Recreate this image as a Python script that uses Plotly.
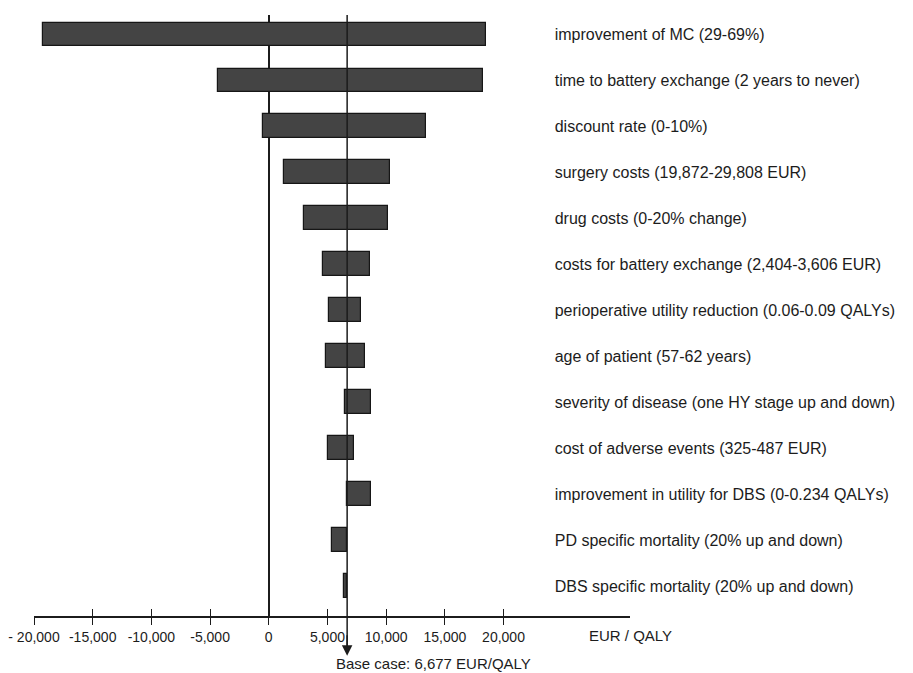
import plotly.graph_objects as go

# One-way sensitivity analysis of the ICER (tornado diagram)
parameters = [
    "improvement of MC (29-69%)",
    "time to battery exchange (2 years to never)",
    "discount rate (0-10%)",
    "surgery costs (19,872-29,808 EUR)",
    "drug costs (0-20% change)",
    "costs for battery exchange (2,404-3,606 EUR)",
    "perioperative utility reduction (0.06-0.09 QALYs)",
    "age of patient (57-62 years)",
    "severity of disease (one HY stage up and down)",
    "cost of adverse events (325-487 EUR)",
    "improvement in utility for DBS (0-0.234 QALYs)",
    "PD specific mortality (20% up and down)",
    "DBS specific mortality (20% up and down)",
]
low_icer = [-19220, -4320, -490, 1300, 3010, 4590, 5100, 4850, 6460, 5020, 6677, 5360, 6380]
high_icer = [18510, 18250, 13400, 10330, 10160, 8640, 7830, 8170, 8680, 7270, 8680, 6677, 6677]
base_case = 6677

tick_values = [-20000, -15000, -10000, -5000, 0, 5000, 10000, 15000, 20000]
tick_labels = ["- 20,000", "-15,000", "-10,000", "-5,000", "0", "5,000", "10,000", "15,000", "20,000"]

positions = list(range(len(parameters)))
FONT = "Liberation Sans, Arial, sans-serif"
INK = "#1c1c1c"

fig = go.Figure()
fig.add_trace(go.Bar(
    y=positions,
    x=[h - l for l, h in zip(low_icer, high_icer)],
    base=low_icer,
    orientation="h",
    width=0.52,
    marker=dict(color="#444444", line=dict(color="#161616", width=1.2)),
    showlegend=False,
    hoverinfo="skip",
))
# companion axis used only for the upward half of the crossing tick marks
fig.add_trace(go.Scatter(x=[], y=[], xaxis="x2", yaxis="y", showlegend=False))

fig.update_layout(
    width=913, height=673,
    margin=dict(l=34, r=283, t=15, b=57, autoexpand=False),
    paper_bgcolor="white", plot_bgcolor="white",
    font=dict(family=FONT, color=INK),
    bargap=0,
    xaxis=dict(
        range=[-20000, 30775], automargin=False,
        tickvals=tick_values, ticktext=tick_labels,
        ticks="outside", ticklen=7, tickwidth=1.3, tickcolor=INK,
        tickfont=dict(size=14, color=INK, family=FONT),
        showline=True, linecolor=INK, linewidth=1.5,
        showgrid=False,
        zeroline=True, zerolinecolor=INK, zerolinewidth=1.5,
    ),
    xaxis2=dict(
        overlaying="x", matches="x", anchor="y", side="bottom",
        automargin=False,
        tickvals=tick_values, ticks="inside", ticklen=7, tickwidth=1.3,
        tickcolor=INK, showticklabels=False, showline=False,
        showgrid=False, zeroline=False,
    ),
    yaxis=dict(
        range=[12.653, -0.425], automargin=False,
        tickvals=positions, ticktext=parameters,
        side="right", anchor="free", position=0.872,
        ticks="", showline=False, showgrid=False, zeroline=False,
        tickfont=dict(size=16, color=INK, family=FONT),
    ),
    shapes=[
        dict(type="line", xref="x", yref="paper",
             x0=base_case, x1=base_case, y0=1, y1=-0.05,
             line=dict(color=INK, width=1.5)),
    ],
    annotations=[
        dict(x=base_case, y=-0.066, xref="x", yref="paper",
             text="", showarrow=True, ax=0, ay=-22,
             arrowhead=2, arrowsize=1.4, arrowwidth=1.5, arrowcolor=INK),
        dict(x=0.503, y=-0.079, xref="paper", yref="paper",
             text="Base case: 6,677 EUR/QALY", showarrow=False,
             xanchor="left", yanchor="middle",
             font=dict(size=15, color=INK, family=FONT)),
        dict(x=1.0, y=-0.032, xref="paper", yref="paper",
             text="EUR / QALY", showarrow=False,
             xanchor="center", yanchor="middle",
             font=dict(size=15, color=INK, family=FONT)),
    ],
)

fig.write_html("out.html")
